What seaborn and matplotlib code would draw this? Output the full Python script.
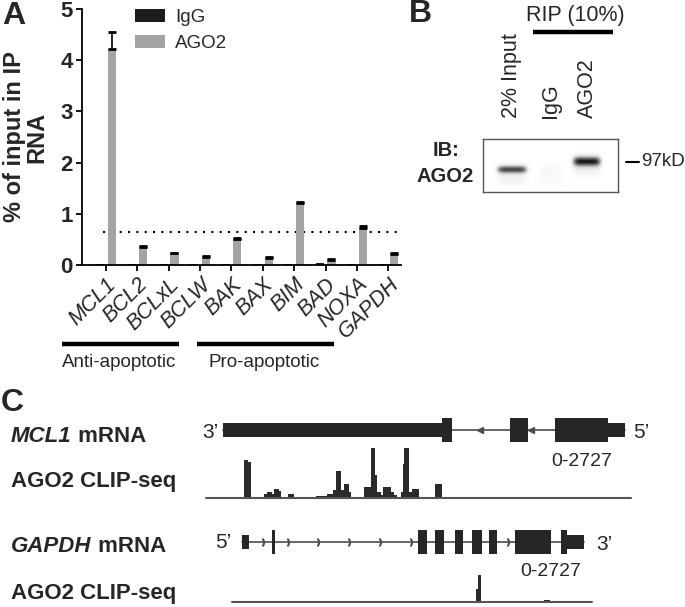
import matplotlib
matplotlib.use("Agg")
import matplotlib.pyplot as plt
import matplotlib.transforms as mtransforms
from matplotlib.patches import Rectangle
import numpy as np
import pandas as pd
import seaborn as sns

# --- Panel A : RIP-qPCR ---
genes = ["MCL1", "BCL2", "BCLxL", "BCLW", "BAK", "BAX", "BIM", "BAD", "NOXA", "GAPDH"]
igg = [0.02, 0.015, 0.015, 0.015, 0.015, 0.015, 0.015, 0.03, 0.015, 0.015]
ago2 = [4.22, 0.36, 0.23, 0.15, 0.51, 0.13, 1.21, 0.09, 0.72, 0.21]
ago2_err = [0.33, 0.02, 0.0, 0.02, 0.02, 0.02, 0.02, 0.02, 0.05, 0.02]
threshold = 0.64
groups = ["Anti-apoptotic", "Pro-apoptotic"]
group_span = [(-1.40, 2.32), (2.90, 7.26)]

# --- Panel B : western blot ---
lanes = ["2% Input", "IgG", "AGO2"]
lane_x = [512, 551, 587]
band_y = [170, 172, 162]
band_level = [0.85, 0.06, 1.0]
band_halfwidth = [15, 11, 14]
band_halfheight = [4.0, 7.0, 5.0]
smear_level = [0.12, 0.05, 0.10]

# --- Panel C : gene models + AGO2 CLIP-seq ---
mcl1_exon_start = [223, 442, 510, 555, 608]
mcl1_exon_end = [442, 452, 528, 608, 625]
mcl1_exon_coding = [False, True, True, True, False]
mcl1_arrows = [480, 531]
mcl1_clip_edges = [206, 244.3, 248.3, 250.7, 264, 267.3, 271.7, 274, 279.3, 280.7,
                   287.7, 294, 316, 327.3, 333.3, 335.7, 340.7, 344, 349, 350.7,
                   364.3, 370.7, 375.3, 377.3, 380.7, 383.3, 390.7, 394, 396.7,
                   401.3, 403.3, 404, 409, 412.3, 419, 435, 442, 631]
mcl1_clip_reads = [0, 2077, 1952, 0, 233, 342, 233, 504, 380, 0,
                   233, 0, 108, 233, 450, 1447, 450, 775, 325, 0,
                   596, 2727, 1231, 325, 150, 596, 325, 146, 0,
                   325, 1843, 2727, 325, 504, 0, 775, 0]

gapdh_exon_start = [242, 272, 418, 435, 455, 472, 489, 515, 561, 567]
gapdh_exon_end = [249, 274.5, 427, 444, 463, 482, 497, 551, 567, 584]
gapdh_exon_coding = [False, True, True, True, True, True, True, True, True, False]
gapdh_arrows = [263, 288, 318, 349, 380, 411, 508]
gapdh_clip_edges = [232, 476, 477.5, 481, 544, 550, 592]
gapdh_clip_reads = [0, 690, 1447, 0, 125, 0]
clip_max = 2727

sns.set_theme(style="ticks")
plt.rcParams["font.family"] = ["Liberation Sans", "DejaVu Sans"]

W, H = 685, 607
fig = plt.figure(figsize=(W / 100, H / 100), dpi=100)


def px_axes(x0, y0, x1, y1):
    return fig.add_axes([x0 / W, 1 - y1 / H, (x1 - x0) / W, (y1 - y0) / H])


canvas = px_axes(0, 0, W, H)
canvas.set_xlim(0, W)
canvas.set_ylim(H, 0)
canvas.axis("off")

# ---------------- Panel A ----------------
df = pd.DataFrame({
    "gene": genes * 2,
    "antibody": ["IgG"] * len(genes) + ["AGO2"] * len(genes),
    "value": igg + ago2,
})
ax = px_axes(82, 9, 401, 265)
sns.barplot(data=df, x="gene", y="value", hue="antibody",
            palette={"IgG": "#1c1c1c", "AGO2": "#a3a3a3"},
            width=0.74, gap=0.3, errorbar=None, ax=ax, zorder=2,
            edgecolor="none", linewidth=0)
bars = ax.containers[1]
xs = [b.get_x() + b.get_width() / 2 for b in bars]
ax.errorbar(xs, ago2, yerr=[np.zeros(len(ago2)), ago2_err], fmt="none",
            ecolor="black", elinewidth=1.2, capsize=3, capthick=2, zorder=3)

ax.set_xlim(-0.76, 9.4)
ax.set_ylim(0, 5)
ax.set_yticks(range(6))
ax.axhline(threshold, xmin=(-0.1 + 0.76) / 10.16, color="black",
           ls=(0, (1, 3)), lw=1.5, zorder=1)
sns.despine(ax=ax)
for s in ["left", "bottom"]:
    ax.spines[s].set_linewidth(1.3)
    ax.spines[s].set_color("black")
ax.tick_params(axis="both", direction="out", length=4.5, width=1.3, color="black", pad=2)
ax.set_yticklabels([str(i) for i in range(6)], fontsize=16, fontweight="bold")
ax.set_xticks(range(len(genes)))
ax.set_xticklabels(genes, rotation=45, ha="right", rotation_mode="anchor",
                   fontstyle="italic", fontsize=15.5)
ax.set_xlabel("")
ax.set_ylabel("% of input in IP\nRNA", fontsize=17, fontweight="bold", linespacing=0.95)
ax.yaxis.set_label_coords(-0.105, 0.5)

sns.move_legend(ax, "upper left", bbox_to_anchor=(0.165, 1.0), frameon=False,
                title=None, fontsize=13.5, handlelength=1.6, handleheight=0.7,
                handletextpad=0.55, labelspacing=0.45, borderpad=0, borderaxespad=0)

trans = mtransforms.blended_transform_factory(ax.transData, ax.transAxes)
for name, (g0, g1) in zip(groups, group_span):
    ax.plot([g0, g1], [-0.309, -0.309], color="black", lw=3.2, transform=trans,
            clip_on=False, solid_capstyle="butt")
    ax.text((g0 + g1) / 2 - 0.05, -0.379, name, ha="center", va="center",
            fontsize=13.5, transform=trans)

canvas.text(2, 16, "A", fontsize=23, fontweight="bold", ha="left", va="center")

# ---------------- Panel B ----------------
canvas.text(409, 14, "B", fontsize=23, fontweight="bold", ha="left", va="center")
canvas.text(575, 15, "RIP (10%)", fontsize=15.5, ha="center", va="center")
canvas.plot([533, 613], [32, 32], color="black", lw=3.2, solid_capstyle="butt")
for name, lx in zip(lanes, lane_x):
    canvas.text(lx, 118, name, rotation=90, fontsize=15.5, ha="center", va="bottom")
canvas.text(446, 150, "IB:", fontsize=14.5, fontweight="bold", ha="center", va="center")
canvas.text(445, 176, "AGO2", fontsize=14.5, fontweight="bold", ha="center", va="center")
canvas.plot([626, 639], [162, 162], color="black", lw=1.5)
canvas.text(641, 162, "97kD", fontsize=13.5, ha="left", va="center")

bx = px_axes(483, 139, 618, 192)
gx, gy = np.meshgrid(np.arange(483, 618.5, 0.5), np.arange(139, 192.5, 0.5))
img = np.zeros_like(gx, dtype=float)
for cx, cy, lv, hw, hh, sm in zip(lane_x, band_y, band_level, band_halfwidth,
                                  band_halfheight, smear_level):
    prof = np.exp(-((gx - cx) / hw) ** 6)
    img += lv * prof * np.exp(-((gy - cy) / hh) ** 2)
    img += sm * prof * np.exp(-((gy - cy - 10) / 5) ** 2)
bx.imshow(np.clip(img, 0, 1), cmap="Greys", vmin=0, vmax=1.08,
          extent=(483, 618, 192, 139), aspect="auto", interpolation="bilinear")
bx.set_xticks([])
bx.set_yticks([])
for s in bx.spines.values():
    s.set_color("#555555")
    s.set_linewidth(1.0)

# ---------------- Panel C ----------------
canvas.text(1, 403, "C", fontsize=23, fontweight="bold", ha="left", va="center")


def label_gene(y, gene):
    t = canvas.text(11, y, gene, fontsize=16, fontweight="bold", fontstyle="italic",
                    ha="left", va="center")
    canvas.annotate(" mRNA", xy=(1, 0.5), xycoords=t, fontsize=16, fontweight="bold",
                    ha="left", va="center")


label_gene(437, "MCL1")
label_gene(547, "GAPDH")
canvas.text(11, 481, "AGO2 CLIP-seq", fontsize=16, fontweight="bold", ha="left", va="center")
canvas.text(11, 594, "AGO2 CLIP-seq", fontsize=16, fontweight="bold", ha="left", va="center")


def draw_gene(box, starts, ends, coding, arrows, marker):
    g = px_axes(*box)
    g.set_xlim(box[0], box[2])
    g.set_ylim(-20, 20)
    g.axis("off")
    g.plot([starts[0], ends[-1]], [0, 0], color="#4d4d4d", lw=1.2, zorder=1)
    for s, e, c in zip(starts, ends, coding):
        h = 12 if c else 7
        g.add_patch(Rectangle((s, -h), e - s, 2 * h, color="#262626", lw=0, zorder=2))
    g.plot(arrows, [0] * len(arrows), ls="none", marker=marker, ms=5,
           color="#4d4d4d", zorder=1)
    return g


def draw_clip(box, edges, reads):
    c = px_axes(*box)
    c.set_xlim(box[0], box[2])
    c.set_ylim(0, clip_max)
    c.axis("off")
    c.stairs(reads, edges, fill=True, color="#2a2a2a", lw=0)
    c.plot([edges[0], edges[-1]], [0, 0], color="#555555", lw=1.5, clip_on=False)
    return c


draw_gene((190, 410, 660, 450), mcl1_exon_start, mcl1_exon_end, mcl1_exon_coding,
          mcl1_arrows, "<")
draw_clip((190, 447.7, 660, 498), mcl1_clip_edges, mcl1_clip_reads)
canvas.text(210, 432, "3’", fontsize=15, ha="center", va="center")
canvas.text(641, 432, "5’", fontsize=15, ha="center", va="center")
canvas.text(582, 462, "0-2727", fontsize=14, ha="center", va="center")

draw_gene((190, 522, 660, 562), gapdh_exon_start, gapdh_exon_end, gapdh_exon_coding,
          gapdh_arrows, "$)$")
draw_clip((190, 551.7, 660, 602), gapdh_clip_edges, gapdh_clip_reads)
canvas.text(223, 543, "5’", fontsize=15, ha="center", va="center")
canvas.text(604, 544, "3’", fontsize=15, ha="center", va="center")
canvas.text(551, 572, "0-2727", fontsize=14, ha="center", va="center")

fig.savefig("out.png", dpi=100)
plt.close(fig)
